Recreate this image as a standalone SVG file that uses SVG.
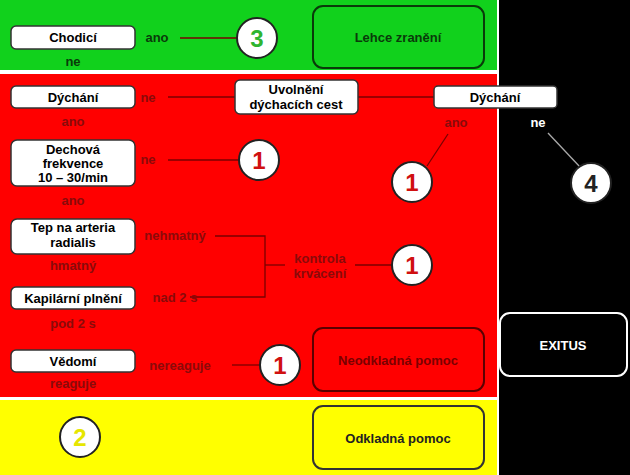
<svg xmlns="http://www.w3.org/2000/svg" width="630" height="475" viewBox="0 0 630 475">
<style>
text{font-family:"Liberation Sans",Arial,sans-serif;font-weight:bold;font-size:13px;text-anchor:middle}
.box{fill:#fff;stroke:#333;stroke-width:1.5}
.circ{fill:#fff;stroke:#222;stroke-width:2}
.num{font-size:24px}
.lr{fill:#8a0a0a}
.lg{fill:#0a3a0a}
.ln{stroke:#7a0000;stroke-width:1.3;fill:none}
</style>
<rect width="630" height="475" fill="#fff"/>
<rect x="0" y="0" width="497" height="70" fill="#11d11c"/>
<rect x="0" y="74" width="497" height="323" fill="#ff0000"/>
<rect x="0" y="400" width="497" height="75" fill="#ffff00"/>
<rect x="499" y="0" width="131" height="475" fill="#000"/>
<g id="connectors">
<line class="ln" x1="180" y1="38" x2="237" y2="38" stroke="#0a3a0a"/>
<line class="ln" x1="168" y1="97" x2="235" y2="97"/>
<line class="ln" x1="358" y1="97" x2="434" y2="97"/>
<line class="ln" x1="168" y1="160" x2="239" y2="160"/>
<line class="ln" x1="448" y1="134" x2="427" y2="166"/>
<line x1="548" y1="133" x2="580" y2="167" stroke="#aaa" stroke-width="1.3"/>
<polyline class="ln" points="215,236 265,236 265,297 190,297"/>
<line class="ln" x1="265" y1="265" x2="285" y2="265"/>
<line class="ln" x1="355" y1="265" x2="392" y2="265"/>
<line class="ln" x1="232" y1="365" x2="260" y2="365"/>
</g>
<g id="chodici"><rect class="box" x="11" y="26" width="124" height="23" rx="5"/><text x="73" y="42">Chodicí</text></g>
<text class="lg" x="157" y="42">ano</text><text class="lg" x="73" y="66">ne</text>
<g id="c3"><circle class="circ" cx="257" cy="38" r="20"/><text class="num" x="257" y="47" fill="#2fb52f">3</text></g>
<g id="lehce"><rect x="313" y="6" width="171" height="62" rx="10" fill="#11d11c" stroke="#0a3a0a" stroke-width="2"/><text x="398" y="42" font-size="15" fill="#0a3a0a">Lehce zranění</text></g>
<g id="dychani1"><rect class="box" x="11" y="86" width="124" height="22" rx="5"/><text x="73" y="102">Dýchání</text></g>
<text class="lr" x="148" y="102">ne</text><text class="lr" x="73" y="126">ano</text>
<g id="uvolneni"><rect class="box" x="235" y="80" width="123" height="34" rx="5"/><text x="296" y="94">Uvolnění</text><text x="296" y="109">dýchacích cest</text></g>
<g id="dychani2"><rect class="box" x="434" y="86" width="123" height="22" rx="4"/><text x="495" y="102">Dýchání</text></g>
<text class="lr" x="456" y="127">ano</text><text x="538" y="127" fill="#fff">ne</text>
<g id="dechova"><rect class="box" x="11" y="140" width="124" height="46" rx="6"/><text x="73" y="154">Dechová</text><text x="73" y="168">frekvence</text><text x="73" y="182">10 – 30/min</text></g>
<text class="lr" x="148" y="164">ne</text><text class="lr" x="73" y="205">ano</text>
<g id="c1a"><circle class="circ" cx="259" cy="160" r="20"/><text class="num" x="259" y="169" fill="#d01010">1</text></g>
<g id="c1b"><circle class="circ" cx="412" cy="182" r="20"/><text class="num" x="412" y="191" fill="#d01010">1</text></g>
<g id="c4"><circle class="circ" cx="591" cy="183" r="20"/><text class="num" x="591" y="192" fill="#222">4</text></g>
<g id="tep"><rect class="box" x="11" y="219" width="124" height="35" rx="6"/><text x="73" y="232">Tep na arteria</text><text x="73" y="247">radialis</text></g>
<text class="lr" x="175" y="240">nehmatný</text><text class="lr" x="73" y="270">hmatný</text>
<g id="kapilarni"><rect class="box" x="11" y="287" width="124" height="22" rx="5"/><text x="73" y="303">Kapilární plnění</text></g>
<text class="lr" x="175" y="302">nad 2 s</text><text class="lr" x="73" y="328">pod 2 s</text>
<g id="kontrola"><text x="320" y="263" fill="#8a0a0a">kontrola</text><text x="320" y="278" fill="#8a0a0a">krvácení</text></g>
<g id="c1c"><circle class="circ" cx="412" cy="265" r="20"/><text class="num" x="412" y="274" fill="#d01010">1</text></g>
<g id="vedomi"><rect class="box" x="11" y="350" width="124" height="22" rx="5"/><text x="73" y="366">Vědomí</text></g>
<text class="lr" x="180" y="370">nereaguje</text><text class="lr" x="73" y="388">reaguje</text>
<g id="c1d"><circle class="circ" cx="280" cy="365" r="20"/><text class="num" x="280" y="374" fill="#d01010">1</text></g>
<g id="neodkladna"><rect x="313" y="328" width="171" height="63" rx="10" fill="#ff0000" stroke="#5a0000" stroke-width="2"/><text x="398" y="365" font-size="15" fill="#7a0000">Neodkladná pomoc</text></g>
<g id="c2"><circle class="circ" cx="80" cy="437" r="20"/><text class="num" x="80" y="446" fill="#e6e600">2</text></g>
<g id="odkladna"><rect x="313" y="406" width="171" height="63" rx="10" fill="#ffff00" stroke="#333" stroke-width="2"/><text x="398" y="443" font-size="14" fill="#222">Odkladná pomoc</text></g>
<g id="exitus"><rect x="500" y="313" width="127" height="63" rx="10" fill="#000" stroke="#fff" stroke-width="2"/><text x="563" y="350" font-size="15" fill="#fff">EXITUS</text></g>
</svg>
